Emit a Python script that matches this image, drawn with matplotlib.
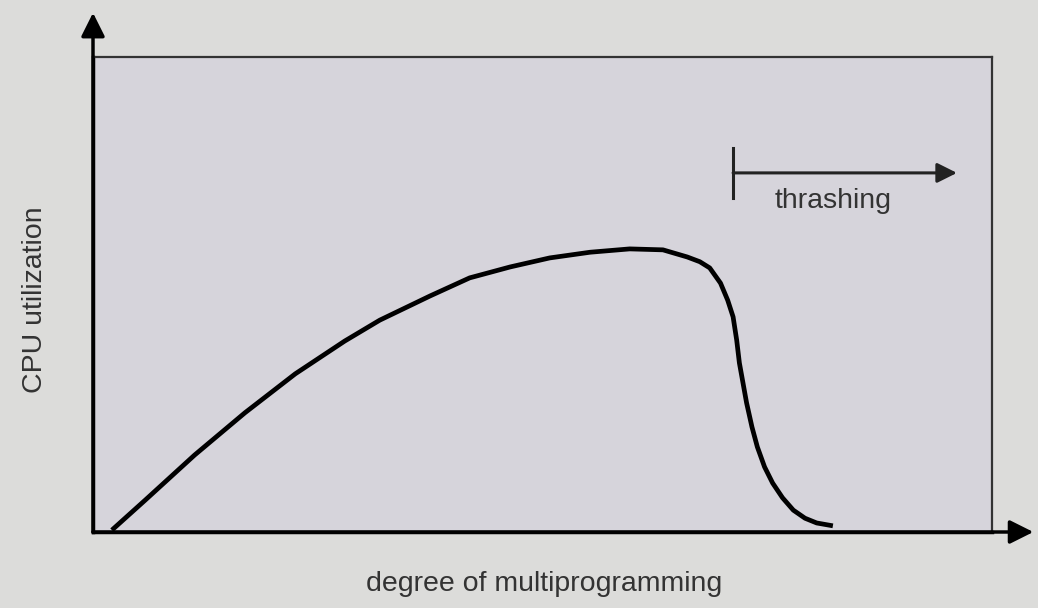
import matplotlib
matplotlib.use('Agg')
import matplotlib.pyplot as plt

plt.rcParams['font.family'] = ['Liberation Sans', 'DejaVu Sans']

# degree of multiprogramming (0-100) vs CPU utilization (%)
degree = [2.1, 5.8, 11.3, 16.9, 22.5, 28.0, 31.9, 37.5, 41.9, 46.4, 50.8, 55.3,
          59.7, 63.4, 66.1, 67.5, 68.6, 69.8, 70.6, 71.2, 71.6, 71.9, 72.7, 73.3,
          73.9, 74.7, 75.6, 76.7, 77.9, 79.2, 80.5, 82.3]
cpu = [0.4, 6.7, 16.2, 25.1, 33.3, 40.2, 44.6, 49.7, 53.5, 55.8, 57.7, 58.9,
       59.6, 59.4, 57.9, 56.9, 55.6, 52.4, 48.8, 45.3, 40.4, 35.6, 27.2, 22.1,
       17.9, 13.7, 10.3, 7.2, 4.6, 2.9, 1.9, 1.3]

thrash_start = 71.2
thrash_end = 96.1
thrash_y = 75.6

fig = plt.figure(figsize=(10.38, 6.08), dpi=100, facecolor='#dcdcda')
ax = fig.add_axes([93/1038, 76/608, 899/1038, 475/608])
ax.set_facecolor('#d6d4db')
ax.set_xlim(0, 100)
ax.set_ylim(0, 100)
ax.set_xticks([])
ax.set_yticks([])
for s in ['top', 'right']:
    ax.spines[s].set_color('#333333')
    ax.spines[s].set_linewidth(1.6)
for s in ['left', 'bottom']:
    ax.spines[s].set_color('black')
    ax.spines[s].set_linewidth(2.5)

ax.plot(degree, cpu, color='black', lw=3.4, solid_capstyle='butt', solid_joinstyle='round')

# axis arrows
ax.annotate('', xy=(0, 109.3), xytext=(0, 0), annotation_clip=False,
            arrowprops=dict(arrowstyle='-|>', lw=2.5, color='black', mutation_scale=36,
                            shrinkA=0, shrinkB=0))
ax.annotate('', xy=(104.6, 0), xytext=(0, 0), annotation_clip=False,
            arrowprops=dict(arrowstyle='-|>', lw=2.5, color='black', mutation_scale=36,
                            shrinkA=0, shrinkB=0))

# thrashing region marker
ax.plot([thrash_start, thrash_start], [70.3, 80.8], color='#222222', lw=2.2)
ax.annotate('', xy=(thrash_end, thrash_y), xytext=(thrash_start, thrash_y),
            arrowprops=dict(arrowstyle='-|>', lw=2.2, color='#222222', mutation_scale=30,
                            shrinkA=0, shrinkB=0))
ax.text(82.3, 69.7, 'thrashing', ha='center', va='center', fontsize=20.5, color='#333333')

ax.set_xlabel('degree of multiprogramming', fontsize=20.5, color='#333333')
ax.set_ylabel('CPU utilization', fontsize=20.5, color='#333333')
ax.xaxis.set_label_coords(0.502, -0.082)
ax.yaxis.set_label_coords(-0.05, 0.49)

fig.savefig('out.png', dpi=100, facecolor=fig.get_facecolor())
